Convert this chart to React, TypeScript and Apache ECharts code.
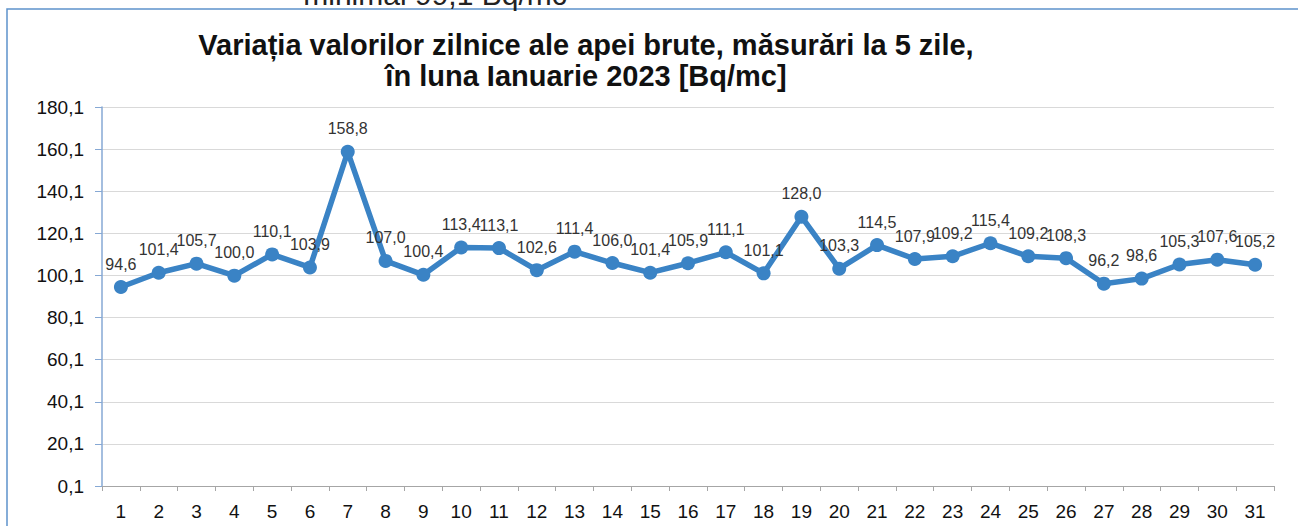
import React, { useEffect, useRef } from "react";
import * as echarts from "echarts";

const days = ["1","2","3","4","5","6","7","8","9","10","11","12","13","14","15","16","17","18","19","20","21","22","23","24","25","26","27","28","29","30","31"];
const values = [94.6, 101.4, 105.7, 100.0, 110.1, 103.9, 158.8, 107.0, 100.4, 113.4, 113.1, 102.6, 111.4, 106.0, 101.4, 105.9, 111.1, 101.1, 128.0, 103.3, 114.5, 107.9, 109.2, 115.4, 109.2, 108.3, 96.2, 98.6, 105.3, 107.6, 105.2];
const titleLines = ["Variația valorilor zilnice ale apei brute, măsurări la 5 zile,", "în luna Ianuarie 2023 [Bq/mc]"];
const topCutText = "minimal 99,1 Bq/mc";

const fmt = (v: number) => v.toFixed(1).replace(".", ",");

export default function App() {
  const ref = useRef<HTMLDivElement>(null);
  useEffect(() => {
    document.body.style.margin = "0";
    const chart = echarts.init(ref.current!, null, { renderer: "svg" });
    chart.setOption({
      animation: false,
      backgroundColor: "#ffffff",
      textStyle: { fontFamily: "Liberation Sans, Arial, sans-serif" },
      graphic: [
        {
          type: "rect",
          shape: { x: 7, y: 9, width: 1320, height: 600 },
          style: { fill: "none", stroke: "#5d92cc", lineWidth: 1.5 },
          silent: true,
        },
        {
          type: "text",
          x: 435,
          y: -21,
          style: { text: topCutText, fill: "#222", font: "30px Liberation Sans, Arial, sans-serif", textAlign: "center" },
        },
        {
          type: "text",
          x: 586,
          y: 30,
          style: { text: titleLines[0], fill: "#111", font: "bold 29px Liberation Sans, Arial, sans-serif", textAlign: "center" },
        },
        {
          type: "text",
          x: 586,
          y: 61,
          style: { text: titleLines[1], fill: "#111", font: "bold 29px Liberation Sans, Arial, sans-serif", textAlign: "center" },
        },
      ],
      grid: { left: 102, right: 24, top: 107, bottom: 40, containLabel: false },
      xAxis: {
        type: "category",
        data: days,
        boundaryGap: true,
        axisLine: { show: true, lineStyle: { color: "#a6a6a6", width: 1 } },
        axisTick: { show: true, alignWithLabel: false, length: 5, lineStyle: { color: "#a6a6a6" } },
        axisLabel: { color: "#111", fontSize: 19, margin: 16, interval: 0 },
        splitLine: { show: false },
      },
      yAxis: {
        type: "value",
        min: 0.1,
        max: 180.1,
        interval: 20,
        axisLine: { show: true, lineStyle: { color: "#86a8d4", width: 1.5 } },
        axisTick: { show: true, length: 7, lineStyle: { color: "#86a8d4" } },
        axisLabel: { color: "#111", fontSize: 19, margin: 18, formatter: (v: number) => fmt(v) },
        splitLine: { show: true, lineStyle: { color: "#d9d9d9", width: 1.2 } },
      },
      series: [
        {
          type: "line",
          data: values,
          symbol: "circle",
          symbolSize: 14,
          lineStyle: { color: "#3a83c5", width: 5.5 },
          itemStyle: { color: "#3a83c5" },
          label: {
            show: true,
            position: "top",
            distance: 8,
            color: "#333",
            fontSize: 16,
            formatter: (p: any) => fmt(p.value),
          },
        },
      ],
    });
    return () => chart.dispose();
  }, []);
  return <div ref={ref} style={{ width: 1298, height: 526 }} />;
}
